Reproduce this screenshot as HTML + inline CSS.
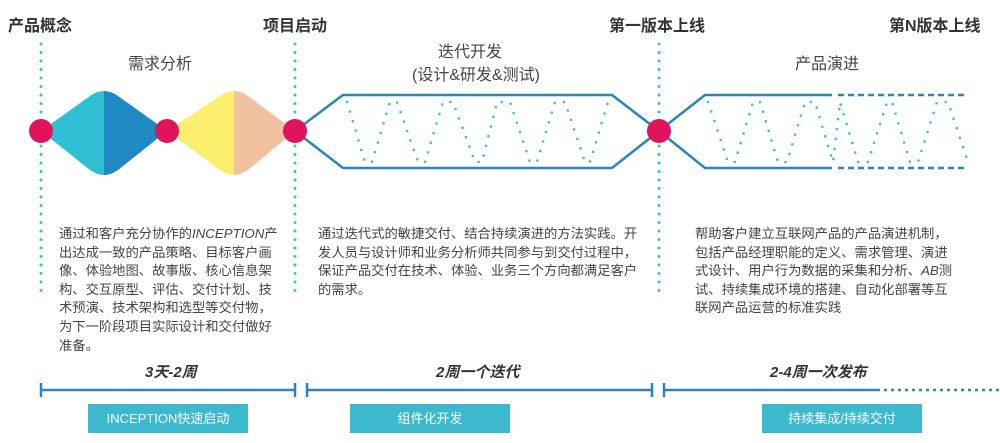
<!DOCTYPE html>
<html><head><meta charset="utf-8"><style>
html,body{margin:0;padding:0;background:#fff;}
body{width:1000px;height:443px;position:relative;overflow:hidden;font-family:"Liberation Sans","Noto Sans CJK SC",sans-serif;color:#333;}
.t{position:absolute;white-space:nowrap;}
.p{position:absolute;font-size:13.3px;line-height:18.6px;color:#444;white-space:nowrap;}
.btn{position:absolute;top:404px;height:29px;background:#3cb9cf;color:#fff;font-size:13px;line-height:29px;text-align:center;}
</style></head><body>
<svg width="1000" height="443" style="position:absolute;left:0;top:0">
<g stroke="#3cc1c0" stroke-width="3" stroke-linecap="round" stroke-dasharray="0 8.5">
<line x1="41" y1="44" x2="41" y2="296"/>
<line x1="295" y1="44" x2="295" y2="296"/>
<line x1="659" y1="44" x2="659" y2="296"/>
</g>
<path d="M41,131 L90,96 Q97,91 104,91 L104,175 Q97,175 90,170 Z" fill="#30c0d6"/>
<path d="M104,91 Q111,91 118,96 L167,131 L118,170 Q111,175 104,175Z" fill="#1f89c4"/>
<path d="M167,131 L220,96 Q227,91 234,91 L234,175 Q227,175 220,170 Z" fill="#fdef6e"/>
<path d="M234,91 Q241,91 248,96 L295,131 L248,170 Q241,175 234,175Z" fill="#f2c2a0"/>
<g fill="none" stroke="#2a85bd" stroke-width="2.5">
<polyline points="295,131 343,95 612,95 659,131 612,168 343,168 295,131"/>
<polyline points="659,131 705,95 832,95"/>
<polyline points="659,131 705,168 832,168"/>
<line x1="838" y1="95" x2="965" y2="95" stroke-dasharray="6 4"/>
<line x1="838" y1="168" x2="965" y2="168" stroke-dasharray="6 4"/>
</g>
<g fill="none" stroke="#3cc1c0" stroke-width="2.6" stroke-linecap="round" stroke-dasharray="0 10">
<polyline points="347,102 365,162 372,162 390,102 397,102 418,162 425,162 443,102 453,102 475,162 482,162 497,102 510,102 530,162 537,162 555,102 565,102 585,162 590,162 608,102"/>
<polyline points="708,102 728,162 735,162 753,102 760,102 778,162 787,162 805,102 815,102 833,162 840,102 858,162 868,162 887,102 892,102 910,162 918,162 937,102 948,102 968,162"/>
</g>
<g fill="#e0145a">
<circle cx="41" cy="131" r="12"/>
<circle cx="167" cy="131" r="12"/>
<circle cx="295" cy="131" r="12"/>
<circle cx="659" cy="131" r="12"/>
</g>
<g stroke="#2a85bd" stroke-width="2.5" fill="none">
<line x1="41" y1="390" x2="295" y2="390"/><line x1="41" y1="383" x2="41" y2="397"/><line x1="295" y1="383" x2="295" y2="397"/>
<line x1="307" y1="390" x2="652" y2="390"/><line x1="307" y1="383" x2="307" y2="397"/><line x1="652" y1="383" x2="652" y2="397"/>
<line x1="664" y1="390" x2="880" y2="390"/><line x1="664" y1="383" x2="664" y2="397"/>
<line x1="884" y1="390" x2="1000" y2="390" stroke-dasharray="3 4"/>
</g>
</svg>
<div class="t" style="left:8px;top:12px;font-size:16px;font-weight:bold;">产品概念</div>
<div class="t" style="left:263px;top:12px;font-size:16px;font-weight:bold;">项目启动</div>
<div class="t" style="left:609px;top:12px;font-size:16px;font-weight:bold;">第一版本上线</div>
<div class="t" style="left:889px;top:12px;font-size:16px;font-weight:bold;">第N版本上线</div>
<div class="t" style="left:128px;top:50px;font-size:16px;color:#444;">需求分析</div>
<div class="t" style="left:438px;top:38px;font-size:16px;color:#444;">迭代开发</div>
<div class="t" style="left:412px;top:61px;font-size:16px;color:#444;">(设计&amp;研发&amp;测试)</div>
<div class="t" style="left:795px;top:50px;font-size:16px;color:#444;">产品演进</div>
<div class="p" style="left:59px;top:225px;">通过和客户充分协作的<i>INCEPTION</i>产<br>出达成一致的产品策略、目标客户画<br>像、体验地图、故事版、核心信息架<br>构、交互原型、评估、交付计划、技<br>术预演、技术架构和选型等交付物，<br>为下一阶段项目实际设计和交付做好<br>准备。</div>
<div class="p" style="left:318px;top:225px;">通过迭代式的敏捷交付、结合持续演进的方法实践。开<br>发人员与设计师和业务分析师共同参与到交付过程中，<br>保证产品交付在技术、体验、业务三个方向都满足客户<br>的需求。</div>
<div class="p" style="left:695px;top:225px;">帮助客户建立互联网产品的产品演进机制，<br>包括产品经理职能的定义、需求管理、演进<br>式设计、用户行为数据的采集和分析、<i>AB</i>测<br>试、持续集成环境的搭建、自动化部署等互<br>联网产品运营的标准实践</div>
<div class="t" style="left:145px;top:361px;font-size:15px;font-weight:bold;font-style:italic;">3天-2周</div>
<div class="t" style="left:436px;top:361px;font-size:15px;font-weight:bold;font-style:italic;">2周一个迭代</div>
<div class="t" style="left:770px;top:361px;font-size:15px;font-weight:bold;font-style:italic;">2-4周一次发布</div>
<div class="btn" style="left:88px;width:160px;">INCEPTION快速启动</div>
<div class="btn" style="left:350px;width:160px;">组件化开发</div>
<div class="btn" style="left:762px;width:160px;">持续集成/持续交付</div>
</body></html>
